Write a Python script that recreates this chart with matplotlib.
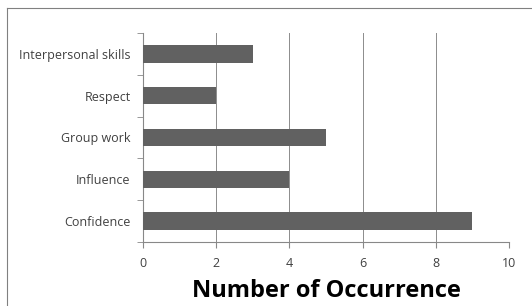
import matplotlib
matplotlib.use("Agg")
import matplotlib.pyplot as plt
from matplotlib.lines import Line2D
import numpy as np

# data (bottom to top)
categories = ["Confidence", "Influence", "Group work", "Respect", "Interpersonal skills"]
counts = [9, 4, 5, 2, 3]
xticks = [0, 2, 4, 6, 8, 10]

plt.rcParams['font.family'] = ['Open Sans', 'DejaVu Sans']

W, H = 532, 306
fig = plt.figure(figsize=(W / 100, H / 100), dpi=100)
ax = fig.add_axes([143 / W, 1 - 242 / H, (509 - 143) / W, (242 - 33) / H])

y = np.arange(len(categories))
ax.barh(y, counts, height=0.42, color="#616161", zorder=3)

ax.set_xlim(0, 10)
ax.set_ylim(-0.5, len(categories) - 0.5)
ax.set_xticks(xticks)
ax.set_xticklabels([str(t) for t in xticks], fontsize=9, color="#404040")
ax.set_yticks(y)
ax.set_yticklabels(categories, fontsize=9, color="#404040")
ax.set_yticks(np.arange(-0.5, len(categories), 1.0), minor=True)
ax.tick_params(axis="y", which="major", length=0, pad=9)
ax.tick_params(axis="y", which="minor", length=4, color="#888888", direction="out")
ax.tick_params(axis="x", length=4, color="#888888", direction="out", pad=7)

ax.grid(axis="x", color="#8c8c8c", linewidth=0.7, zorder=0)
for s in ["top", "right"]:
    ax.spines[s].set_visible(False)
for s in ["left", "bottom"]:
    ax.spines[s].set_color("#888888")
    ax.spines[s].set_linewidth(0.8)

ax.set_xlabel("Number of Occurrence", fontsize=17, fontweight="bold", labelpad=6)

# outer frame of the cropped figure
fig.add_artist(Line2D([7 / W, 7 / W], [0, 1 - 8 / H], transform=fig.transFigure,
                      color="#808080", linewidth=0.8))
fig.add_artist(Line2D([7 / W, 1], [1 - 8 / H, 1 - 8 / H], transform=fig.transFigure,
                      color="#808080", linewidth=0.8))

fig.savefig("out.png", dpi=100)
